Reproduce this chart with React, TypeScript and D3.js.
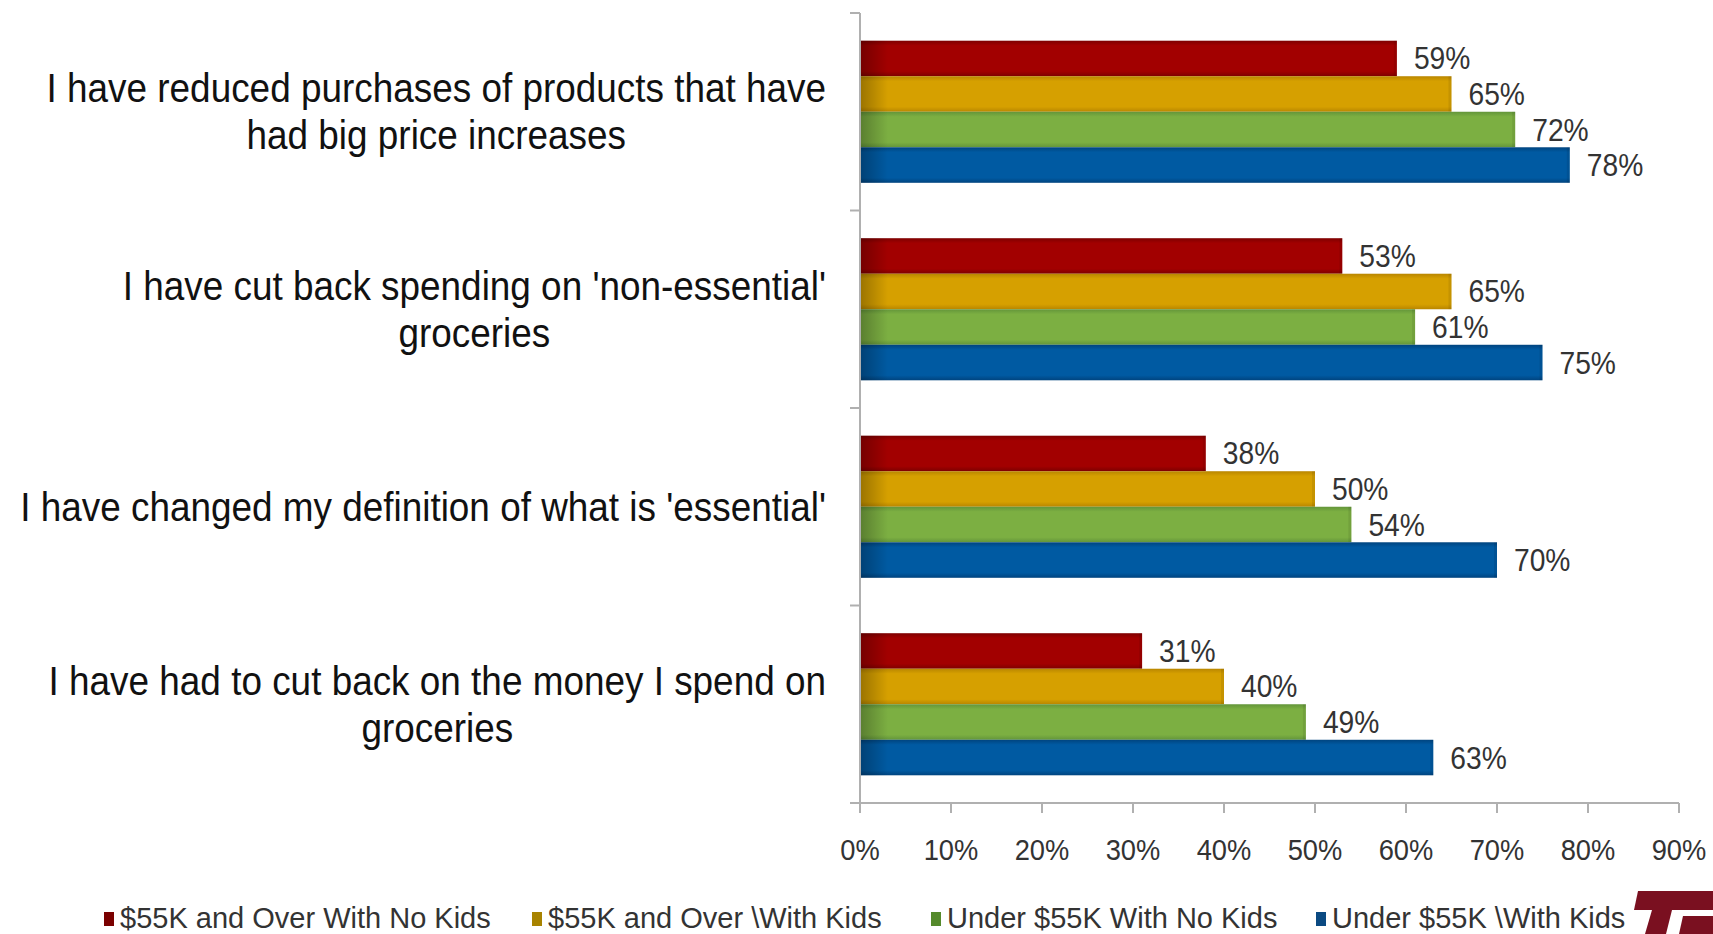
import React from 'react';
import * as d3 from 'd3';

const categories: string[][] = [
  ["I have reduced purchases of products that have", "had big price increases"],
  ["I have cut back spending on 'non-essential'", "groceries"],
  ["I have changed my definition of what is 'essential'"],
  ["I have had to cut back on the money I spend on", "groceries"],
];
const seriesNames = [
  "$55K and Over With No Kids",
  "$55K and Over \\With Kids",
  "Under $55K With No Kids",
  "Under $55K \\With Kids",
];
const over55NoKids = [59, 53, 38, 31];
const over55WithKids = [65, 65, 50, 40];
const under55NoKids = [72, 61, 54, 49];
const under55WithKids = [78, 75, 70, 63];
const seriesValues = [over55NoKids, over55WithKids, under55NoKids, under55WithKids];
const tickValues = [0, 10, 20, 30, 40, 50, 60, 70, 80, 90];

const barMain = ["#a20000", "#d6a000", "#7caf42", "#005aa2"];
const barEdge = ["#7e0000", "#b98600", "#63953a", "#00447f"];
const legendColor = ["#7a0000", "#a88300", "#558a2c", "#0b4a82"];

const W = 1713, H = 934;
const X0 = 860, X90 = 1679;
const TOP = 13, BOTTOM = 803;
const FONT = "'Liberation Sans', Arial, Helvetica, sans-serif";
const CAT_SIZE = 41;
const CAT_SX = 0.9;
const NUM_SX = 0.91;

let ctx: CanvasRenderingContext2D | null = null;
function measure(t: string, size: number) {
  if (!ctx) ctx = document.createElement('canvas').getContext('2d');
  if (!ctx) return t.length * size * 0.5;
  ctx.font = `${size}px "Liberation Sans", Arial, sans-serif`;
  return ctx.measureText(t).width;
}

function SText({ x, y, sx, children, ...rest }: any) {
  return (
    <text transform={`translate(${x},${y}) scale(${sx},1)`} {...rest}>{children}</text>
  );
}

export default function App() {
  const x = d3.scaleLinear().domain([0, 90]).range([X0, X90]);
  const y = d3.scaleBand<number>().domain(d3.range(categories.length)).range([TOP, BOTTOM]);
  const inner = d3.scaleBand<number>().domain(d3.range(seriesValues.length)).range([0, y.bandwidth()]).paddingInner(0).paddingOuter(0.78);
  const bh = inner.bandwidth();
  const boundaries = d3.range(categories.length + 1).map(i => TOP + i * y.step());
  const labelRight = 826;
  const lineH = 47;

  const legendX = [104, 532, 931, 1316];

  return (
    <svg width={W} height={H} style={{ position: 'absolute', left: 0, top: 0, background: '#fff' }} fontFamily={FONT}>
      <defs>
        {barMain.map((c, i) => (
          <linearGradient key={i} id={`g${i}`} x1="0" y1="0" x2="0" y2="1">
            <stop offset="0" stopColor={barEdge[i]} />
            <stop offset="0.14" stopColor={c} />
            <stop offset="0.86" stopColor={c} />
            <stop offset="1" stopColor={barEdge[i]} />
          </linearGradient>
        ))}
        <linearGradient id="leftShade" gradientUnits="userSpaceOnUse" x1={X0} y1="0" x2={X0 + 28} y2="0">
          <stop offset="0" stopColor="#000" stopOpacity="0.28" />
          <stop offset="1" stopColor="#000" stopOpacity="0" />
        </linearGradient>
      </defs>
      <rect width={W} height={H} fill="#fff" />

      {/* bars */}
      {seriesValues.map((vals, si) => vals.map((v, ci) => {
        const by = (y(ci) as number) + (inner(si) as number);
        const bw = x(v) - x(0);
        return (
          <g key={`${si}-${ci}`}>
            <rect x={x(0)} y={by} width={bw} height={bh} fill={`url(#g${si})`} />
            <rect x={x(0)} y={by} width={bw} height={bh} fill="url(#leftShade)" />
            <rect x={x(v) - 3} y={by} width={3} height={bh} fill="#000" opacity={0.08} />
            <SText x={x(v) + 17} y={by + bh / 2 + 11} sx={NUM_SX} fontSize={31} fill="#333">{`${v}%`}</SText>
          </g>
        );
      }))}

      {/* vertical axis */}
      <line x1={X0} x2={X0} y1={TOP} y2={BOTTOM} stroke="#b0b0b0" strokeWidth={2} />
      {boundaries.map((b, i) => (
        <line key={i} x1={X0 - 10} x2={X0} y1={b} y2={b} stroke="#b0b0b0" strokeWidth={2} />
      ))}
      {/* horizontal axis */}
      <line x1={X0} x2={X90} y1={BOTTOM} y2={BOTTOM} stroke="#b0b0b0" strokeWidth={2} />
      {tickValues.map(t => (
        <g key={t}>
          <line x1={x(t)} x2={x(t)} y1={BOTTOM} y2={BOTTOM + 10} stroke="#b0b0b0" strokeWidth={2} />
          <SText x={x(t)} y={860} sx={NUM_SX} textAnchor="middle" fontSize={30} fill="#333">{`${t}%`}</SText>
        </g>
      ))}

      {/* category labels */}
      {categories.map((lines, ci) => {
        const maxW = Math.max(...lines.map(l => measure(l, CAT_SIZE))) * CAT_SX;
        const cx = labelRight - maxW / 2;
        const cy = (y(ci) as number) + y.bandwidth() / 2;
        const startY = cy - ((lines.length - 1) * lineH) / 2 + 14;
        return (
          <text key={ci} transform={`translate(${cx},${startY}) scale(${CAT_SX},1)`} textAnchor="middle" fontSize={CAT_SIZE} fill="#111">
            {lines.map((l, li) => (
              <tspan key={li} x={0} y={li * lineH}>{l}</tspan>
            ))}
          </text>
        );
      })}

      {/* legend */}
      {seriesNames.map((n, i) => (
        <g key={i}>
          <rect x={legendX[i]} y={912} width={10} height={14} fill={legendColor[i]} />
          <text x={legendX[i] + 16} y={928} fontSize={29} fill="#333">{n}</text>
        </g>
      ))}

      {/* logo */}
      <g fill="#7a1020">
        <polygon points="1638,891 1713,891 1713,910 1634,910" />
        <polygon points="1652,910 1672,910 1666,934 1645,934" />
        <polygon points="1683,916 1713,916 1713,934 1679,934" />
      </g>
    </svg>
  );
}
